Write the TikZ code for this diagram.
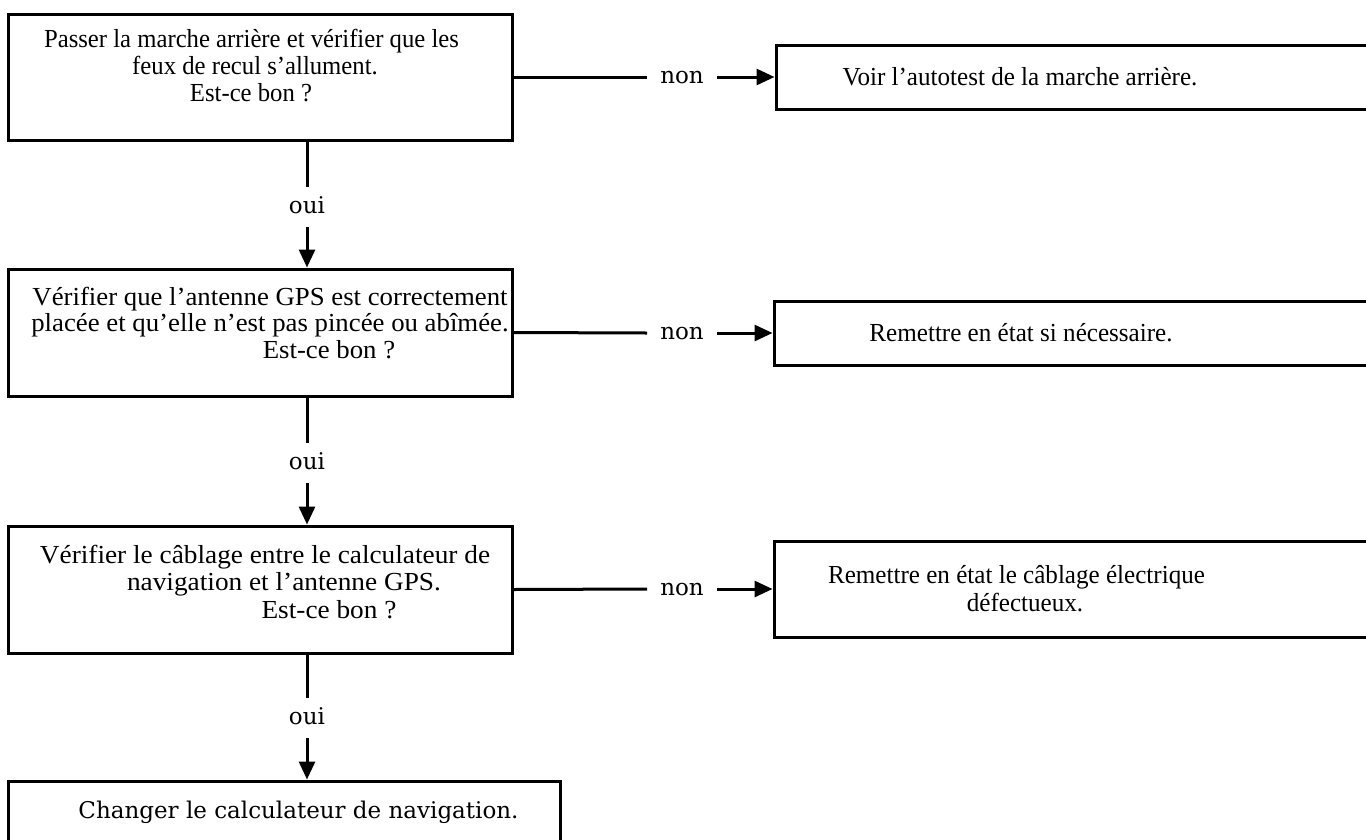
\documentclass[tikz,border=0pt]{standalone}
\usepackage{fontspec}
\setmainfont{Liberation Serif}
\newfontfamily\fA{Liberation Serif}[FakeStretch=0.95]
\newfontfamily\fB{Liberation Serif}[FakeStretch=1.03]
\newfontfamily\fD{Liberation Serif}[FakeStretch=1.05]
\newfontfamily\fR{Liberation Serif}[FakeStretch=0.965]
\newfontfamily\fC{DejaVu Serif}
\usetikzlibrary{arrows.meta}
\begin{document}
\begin{tikzpicture}[x=1pt,y=-1pt,
  box/.style={draw, line width=3pt, rectangle, inner sep=0pt},
  aline/.style={anchor=base, inner sep=0pt, font=\fontsize{26}{28}\fA},
  bline/.style={anchor=base, inner sep=0pt, font=\fontsize{26}{28}\fB},
  dline/.style={anchor=base, inner sep=0pt, font=\fontsize{26}{28}\fD},
  rline/.style={anchor=base, inner sep=0pt, font=\fontsize{26}{28}\fR},
  cline/.style={anchor=base, inner sep=0pt, font=\fontsize{23}{28}\fC},
  conn/.style={line width=3pt},
  arr/.style={line width=3pt, -{Triangle[length=18pt,width=16pt]}},
  nonlbl/.style={inner xsep=13pt, inner ysep=0pt, text height=12pt, text depth=0pt, font=\fontsize{23}{28}\fC},
  ouilbl/.style={inner xsep=0pt, inner ysep=14pt, text height=12pt, text depth=0pt, font=\fontsize{23}{28}\fC}
]
\useasboundingbox (0,0) rectangle (1366,839);
% left column boxes
\node[box, minimum width=504pt, minimum height=126pt] (b1) at (260,77) {};
\node[box, minimum width=504pt, minimum height=127pt] (b2) at (260,332.5) {};
\node[box, minimum width=504pt, minimum height=127pt] (b3) at (260,589.5) {};
\node[box, minimum width=552pt, minimum height=70pt] (b4) at (284,816) {};
% right column boxes
\node[box, minimum width=610pt, minimum height=64pt] (r1) at (1081,77) {};
\node[box, minimum width=612pt, minimum height=64pt] (r2) at (1080,333) {};
\node[box, minimum width=612pt, minimum height=96pt] (r3) at (1080,589) {};
% texts
\node[aline] (b1a) at (251.5,47) {Passer la marche arrière et vérifier que les};
\node[aline] (b1b) at (255,74) {feux de recul s’allument.};
\node[aline] (b1c) at (251,101) {Est-ce bon ?};
\node[bline] (b2a) at (270,305) {Vérifier que l’antenne GPS est correctement};
\node[bline] (b2b) at (270,331) {placée et qu’elle n’est pas pincée ou abîmée.};
\node[bline] (b2c) at (329,358) {Est-ce bon ?};
\node[dline] (b3a) at (265,563) {Vérifier le câblage entre le calculateur de};
\node[dline] (b3b) at (284,590) {navigation et l’antenne GPS.};
\node[dline] (b3c) at (329,618) {Est-ce bon ?};
\node[cline] (b4a) at (298.5,818) {Changer le calculateur de navigation.};
\node[rline] (r1a) at (1020,85) {Voir l’autotest de la marche arrière.};
\node[rline] (r2a) at (1021,341) {Remettre en état si nécessaire.};
\node[rline] (r3a) at (1016.5,583) {Remettre en état le câblage électrique};
\node[rline] (r3b) at (1025,611) {défectueux.};
% labels
\node[nonlbl] (n1) at (682,77) {non};
\node[nonlbl] (n2) at (682,333) {non};
\node[nonlbl] (n3) at (682,589) {non};
\node[ouilbl] (o1) at (307,207) {oui};
\node[ouilbl] (o2) at (307,463) {oui};
\node[ouilbl] (o3) at (307,718) {oui};
% connectors
\draw[conn] (b1.east) -- (n1.west);
\draw[arr] (n1.east) -- (r1.west);
\draw[conn] (b2.east) -- (n2.west);
\draw[arr] (n2.east) -- (r2.west);
\draw[conn] (b3.east) -- (n3.west);
\draw[arr] (n3.east) -- (r3.west);
\draw[conn] (b1.south -| o1) -- (o1.north);
\draw[arr] (o1.south) -- (o1.south |- b2.north);
\draw[conn] (b2.south -| o2) -- (o2.north);
\draw[arr] (o2.south) -- (o2.south |- b3.north);
\draw[conn] (b3.south -| o3) -- (o3.north);
\draw[arr] (o3.south) -- (o3.south |- b4.north);
\end{tikzpicture}
\end{document}
